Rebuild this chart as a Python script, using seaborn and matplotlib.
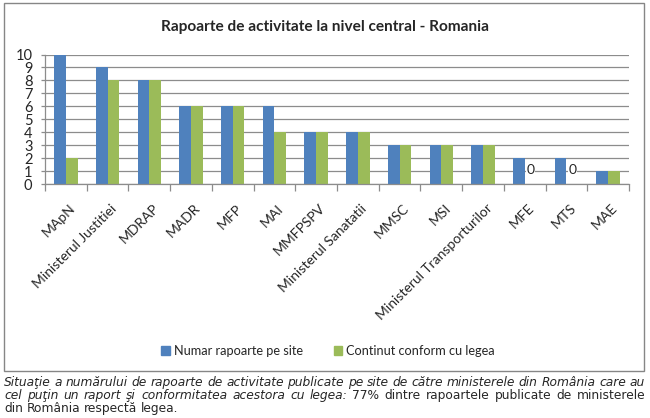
import matplotlib
matplotlib.use("Agg")
import matplotlib.pyplot as plt
import matplotlib.transforms as mtransforms
import seaborn as sns
import pandas as pd
from matplotlib.patches import Rectangle

categories = ["MApN", "Ministerul Justitiei", "MDRAP", "MADR", "MFP", "MAI", "MMFPSPV",
              "Ministerul Sanatatii", "MMSC", "MSI", "Ministerul Transporturilor",
              "MFE", "MTS", "MAE"]
numar = [10, 9, 8, 6, 6, 6, 4, 4, 3, 3, 3, 2, 2, 1]
conform = [2, 8, 8, 6, 6, 4, 4, 4, 3, 3, 3, 0, 0, 1]
series_names = ["Numar rapoarte pe site", "Continut conform cu legea"]
yticks = list(range(0, 11))
title = "Rapoarte de activitate la nivel central - Romania"

caption_lines = [
    [("Situaţie a numărului de rapoarte de activitate publicate pe site de către ministerele din  România care au", "italic")],
    [("cel puţin un raport şi conformitatea acestora cu legea:", "italic"),
     ("77% dintre rapoartele publicate de ministerele", "normal")],
    [("din România respectă legea.", "normal")],
]

df = pd.DataFrame({
    "cat": categories * 2,
    "val": numar + conform,
    "serie": [series_names[0]] * len(categories) + [series_names[1]] * len(categories),
})

sns.set_theme(style="white")
plt.rcParams["font.family"] = ["Lato", "DejaVu Sans"]

W, H = 650, 418
fig = plt.figure(figsize=(6.5, 4.18), dpi=100)
ax = fig.add_axes([45 / W, 1 - 184 / H, (629 - 45) / W, (184 - 54.5) / H])

colors = {"Numar rapoarte pe site": "#4F81BD", "Continut conform cu legea": "#9BBB59"}
sns.barplot(data=df, x="cat", y="val", hue="serie", palette=colors, width=0.56,
            gap=0, dodge=True, ax=ax, saturation=1, legend=True, linewidth=0)

ax.set_ylim(0, 10)
ax.set_xlim(-0.5, len(categories) - 0.5)
ax.set_yticks(yticks)
ax.set_yticklabels([str(v) for v in yticks], fontsize=10.5)
ax.yaxis.grid(True, color="#8c8c8c", linewidth=0.9)
ax.set_axisbelow(True)
ax.set_xlabel("")
ax.set_ylabel("")
for s in ["top", "right"]:
    ax.spines[s].set_visible(False)
for s in ["left", "bottom"]:
    ax.spines[s].set_color("#8c8c8c")
    ax.spines[s].set_linewidth(0.9)
ax.tick_params(axis="y", left=True, length=3, width=0.9, color="#8c8c8c", pad=6)

ax.set_xticks(range(len(categories)))
ax.set_xticklabels(categories, rotation=45, ha="right", rotation_mode="anchor", fontsize=10)
ax.tick_params(axis="x", which="major", bottom=False, length=0, pad=13)
ax.set_xticks([i - 0.5 for i in range(len(categories) + 1)], minor=True)
ax.tick_params(axis="x", which="minor", bottom=True, length=5, width=0.9, color="#8c8c8c")
shift = mtransforms.ScaledTranslation(3 / 100, 0, fig.dpi_scale_trans)
for lab in ax.get_xticklabels():
    lab.set_transform(lab.get_transform() + shift)

cont = ax.containers[1]
labels = ["0" if v == 0 else "" for v in conform]
ax.bar_label(cont, labels=labels, padding=6, fontsize=10,
             bbox=dict(facecolor="white", edgecolor="none", pad=0.5))

leg = ax.get_legend()
leg.remove()
handles = [Rectangle((0, 0), 1, 1, color=colors[n]) for n in series_names]
fig.legend(handles, series_names, loc="center", bbox_to_anchor=(328 / W, 1 - 351 / H),
           ncol=2, frameon=False, fontsize=9.2, handlelength=0.7, handleheight=0.7,
           handletextpad=0.3, columnspacing=2.4)

fig.text(325 / W, 1 - 27 / H, title, ha="center", va="center", fontsize=11.1, fontweight="bold")

fig.patches.append(Rectangle((4 / W, 1 - 371 / H), 640 / W, 368 / H, transform=fig.transFigure,
                             fill=False, edgecolor="#868686", linewidth=1))

fig.canvas.draw()
r = fig.canvas.get_renderer()
x0, x1 = 4, 645
ys = [386, 399, 412]
fs = 8.8
for li, (segments, yy) in enumerate(zip(caption_lines, ys)):
    words = []
    for text, style in segments:
        for w in text.split():
            words.append((w, style))
    arts = []
    total = 0
    for w, style in words:
        t = fig.text(0, 1 - yy / H, w, fontsize=fs, style=style, family="DejaVu Sans",
                     ha="left", va="baseline")
        wpx = t.get_window_extent(r).width
        arts.append((t, wpx))
        total += wpx
    if li < len(caption_lines) - 1:
        gap = (x1 - x0 - total) / (len(words) - 1)
    else:
        sp = fig.text(0, 0, "a a", fontsize=fs, family="DejaVu Sans")
        sa = fig.text(0, 0, "aa", fontsize=fs, family="DejaVu Sans")
        gap = sp.get_window_extent(r).width - sa.get_window_extent(r).width
        sp.remove(); sa.remove()
    x = x0
    for t, wpx in arts:
        t.set_x(x / W)
        x += wpx + gap

fig.savefig("out.png", dpi=100)
